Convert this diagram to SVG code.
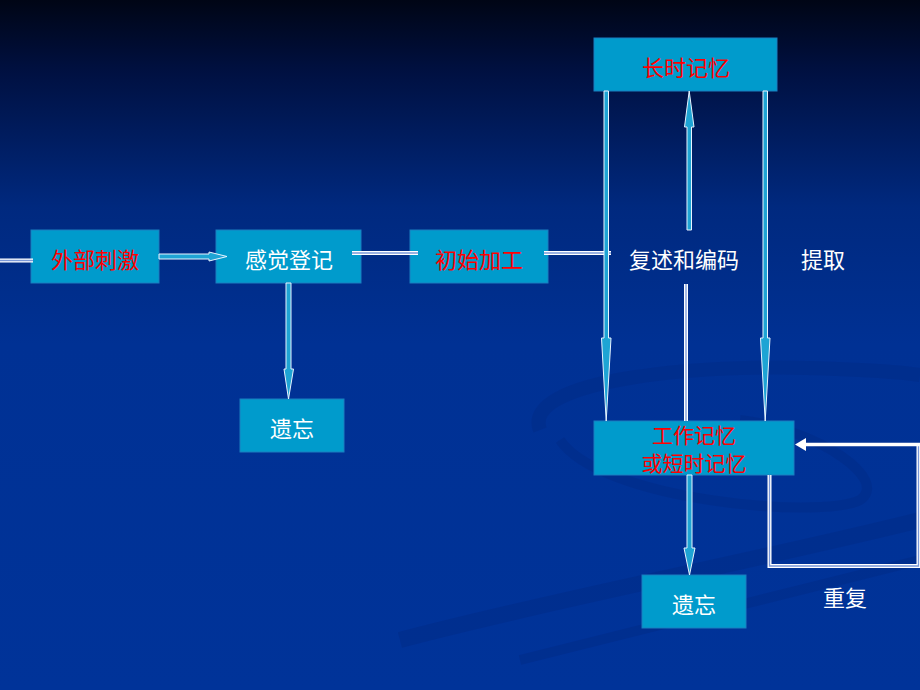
<svg xmlns="http://www.w3.org/2000/svg" width="920" height="690" viewBox="0 0 920 690">
<defs>
<linearGradient id="bg" x1="0" y1="0" x2="0" y2="1">
<stop offset="0" stop-color="#000515"/>
<stop offset="0.1" stop-color="#001040"/>
<stop offset="0.3" stop-color="#00297f"/>
<stop offset="0.5" stop-color="#003194"/>
<stop offset="1" stop-color="#003399"/>
</linearGradient>
<style>
.box{fill:#009bcc;stroke:#1a7ec0;stroke-width:1}
.t{font-family:"Noto Sans CJK SC","Noto Sans CJK TC",sans-serif;font-size:22px;text-anchor:middle;dominant-baseline:central}
.t2{font-size:21px}
.red{fill:#ff0000}
.wh{fill:#ffffff}
.arr{fill:#1ea4d4;stroke:#e8f4ff;stroke-width:1;stroke-linejoin:miter}
.dbl1{stroke:#ffffff;stroke-width:4;fill:none}
.dbl2{stroke:#7a98d8;stroke-width:1.3;fill:none}
</style>
</defs>
<rect width="920" height="690" fill="url(#bg)"/>
<g id="decor" fill="none" stroke="#002c88" opacity="0.55">
<path d="M540,430 C520,380 700,360 860,370 C900,372 920,375 920,375" stroke-width="14"/>
<path d="M560,440 C600,500 820,520 860,500 C890,480 820,430 740,420" stroke-width="10"/>
<path d="M400,640 C550,600 760,560 920,520" stroke-width="16"/>
<path d="M520,660 C640,630 800,590 920,560" stroke-width="10"/>
</g>
<g id="n1"><rect class="box" x="31" y="230" width="128" height="53"/><text class="t red" x="95" y="258">外部刺激</text></g>
<g id="n2"><rect class="box" x="216" y="230" width="145" height="53"/><text class="t wh" x="289" y="258">感觉登记</text></g>
<g id="n3"><rect class="box" x="410" y="230" width="138" height="53"/><text class="t red" x="479" y="258">初始加工</text></g>
<g id="n4"><rect class="box" x="594" y="38" width="183" height="53"/><text class="t red" x="686" y="66">长时记忆</text></g>
<g id="n5"><rect class="box" x="594" y="421" width="200" height="54"/><text class="t t2 red" x="694" y="434">工作记忆</text><text class="t t2 red" x="694" y="462">或短时记忆</text></g>
<g id="n6"><rect class="box" x="240" y="399" width="104" height="53"/><text class="t wh" x="292" y="427">遗忘</text></g>
<g id="n7"><rect class="box" x="642" y="575" width="104" height="53"/><text class="t wh" x="694" y="603">遗忘</text></g>
<g id="connectors">
<line x1="0" y1="260.5" x2="33" y2="260.5" class="dbl1"/>
<line x1="0" y1="260.5" x2="33" y2="260.5" class="dbl2"/>
<polygon class="arr" points="159,254 209,254 209,252 227,256.5 209,261 209,259 159,259"/>
<line x1="352" y1="253" x2="418" y2="253" class="dbl1"/>
<line x1="352" y1="253" x2="418" y2="253" class="dbl2"/>
<line x1="544" y1="253" x2="611" y2="253" class="dbl1"/>
<line x1="544" y1="253" x2="611" y2="253" class="dbl2"/>
<polygon class="arr" points="604,91 608.5,91 608.5,338 611,338 606.2,421 601.5,338 604,338"/>
<polygon class="arr" points="763,91 767.5,91 767.5,338 770,338 765.2,421 760.5,338 763,338"/>
<polygon class="arr" points="687,230 691.5,230 691.5,127 694,127 689.2,91 684.5,127 687,127"/>
<line x1="686" y1="284" x2="686" y2="421" class="dbl1"/>
<line x1="686" y1="284" x2="686" y2="421" class="dbl2"/>
<polygon class="arr" points="286,283 291,283 291,369 293.5,369 288.5,399 284,369 286,369"/>
<polygon class="arr" points="687,475 692,475 692,548 695,548 689.5,575 684,548 687,548"/>
<path d="M769.5,475 V566 H918.5 V444.5" class="dbl1"/>
<path d="M769.5,475 V566 H918.5 V444.5" class="dbl2"/>
<line x1="805" y1="444.5" x2="920" y2="444.5" stroke="#ffffff" stroke-width="3.5"/>
<polygon points="795,444.5 806,438 806,451" fill="#ffffff"/>
</g>
<g id="labels">
<text class="t wh" x="684" y="258">复述和编码</text>
<text class="t wh" x="823" y="258">提取</text>
<text class="t wh" x="845" y="596">重复</text>
</g>
</svg>
